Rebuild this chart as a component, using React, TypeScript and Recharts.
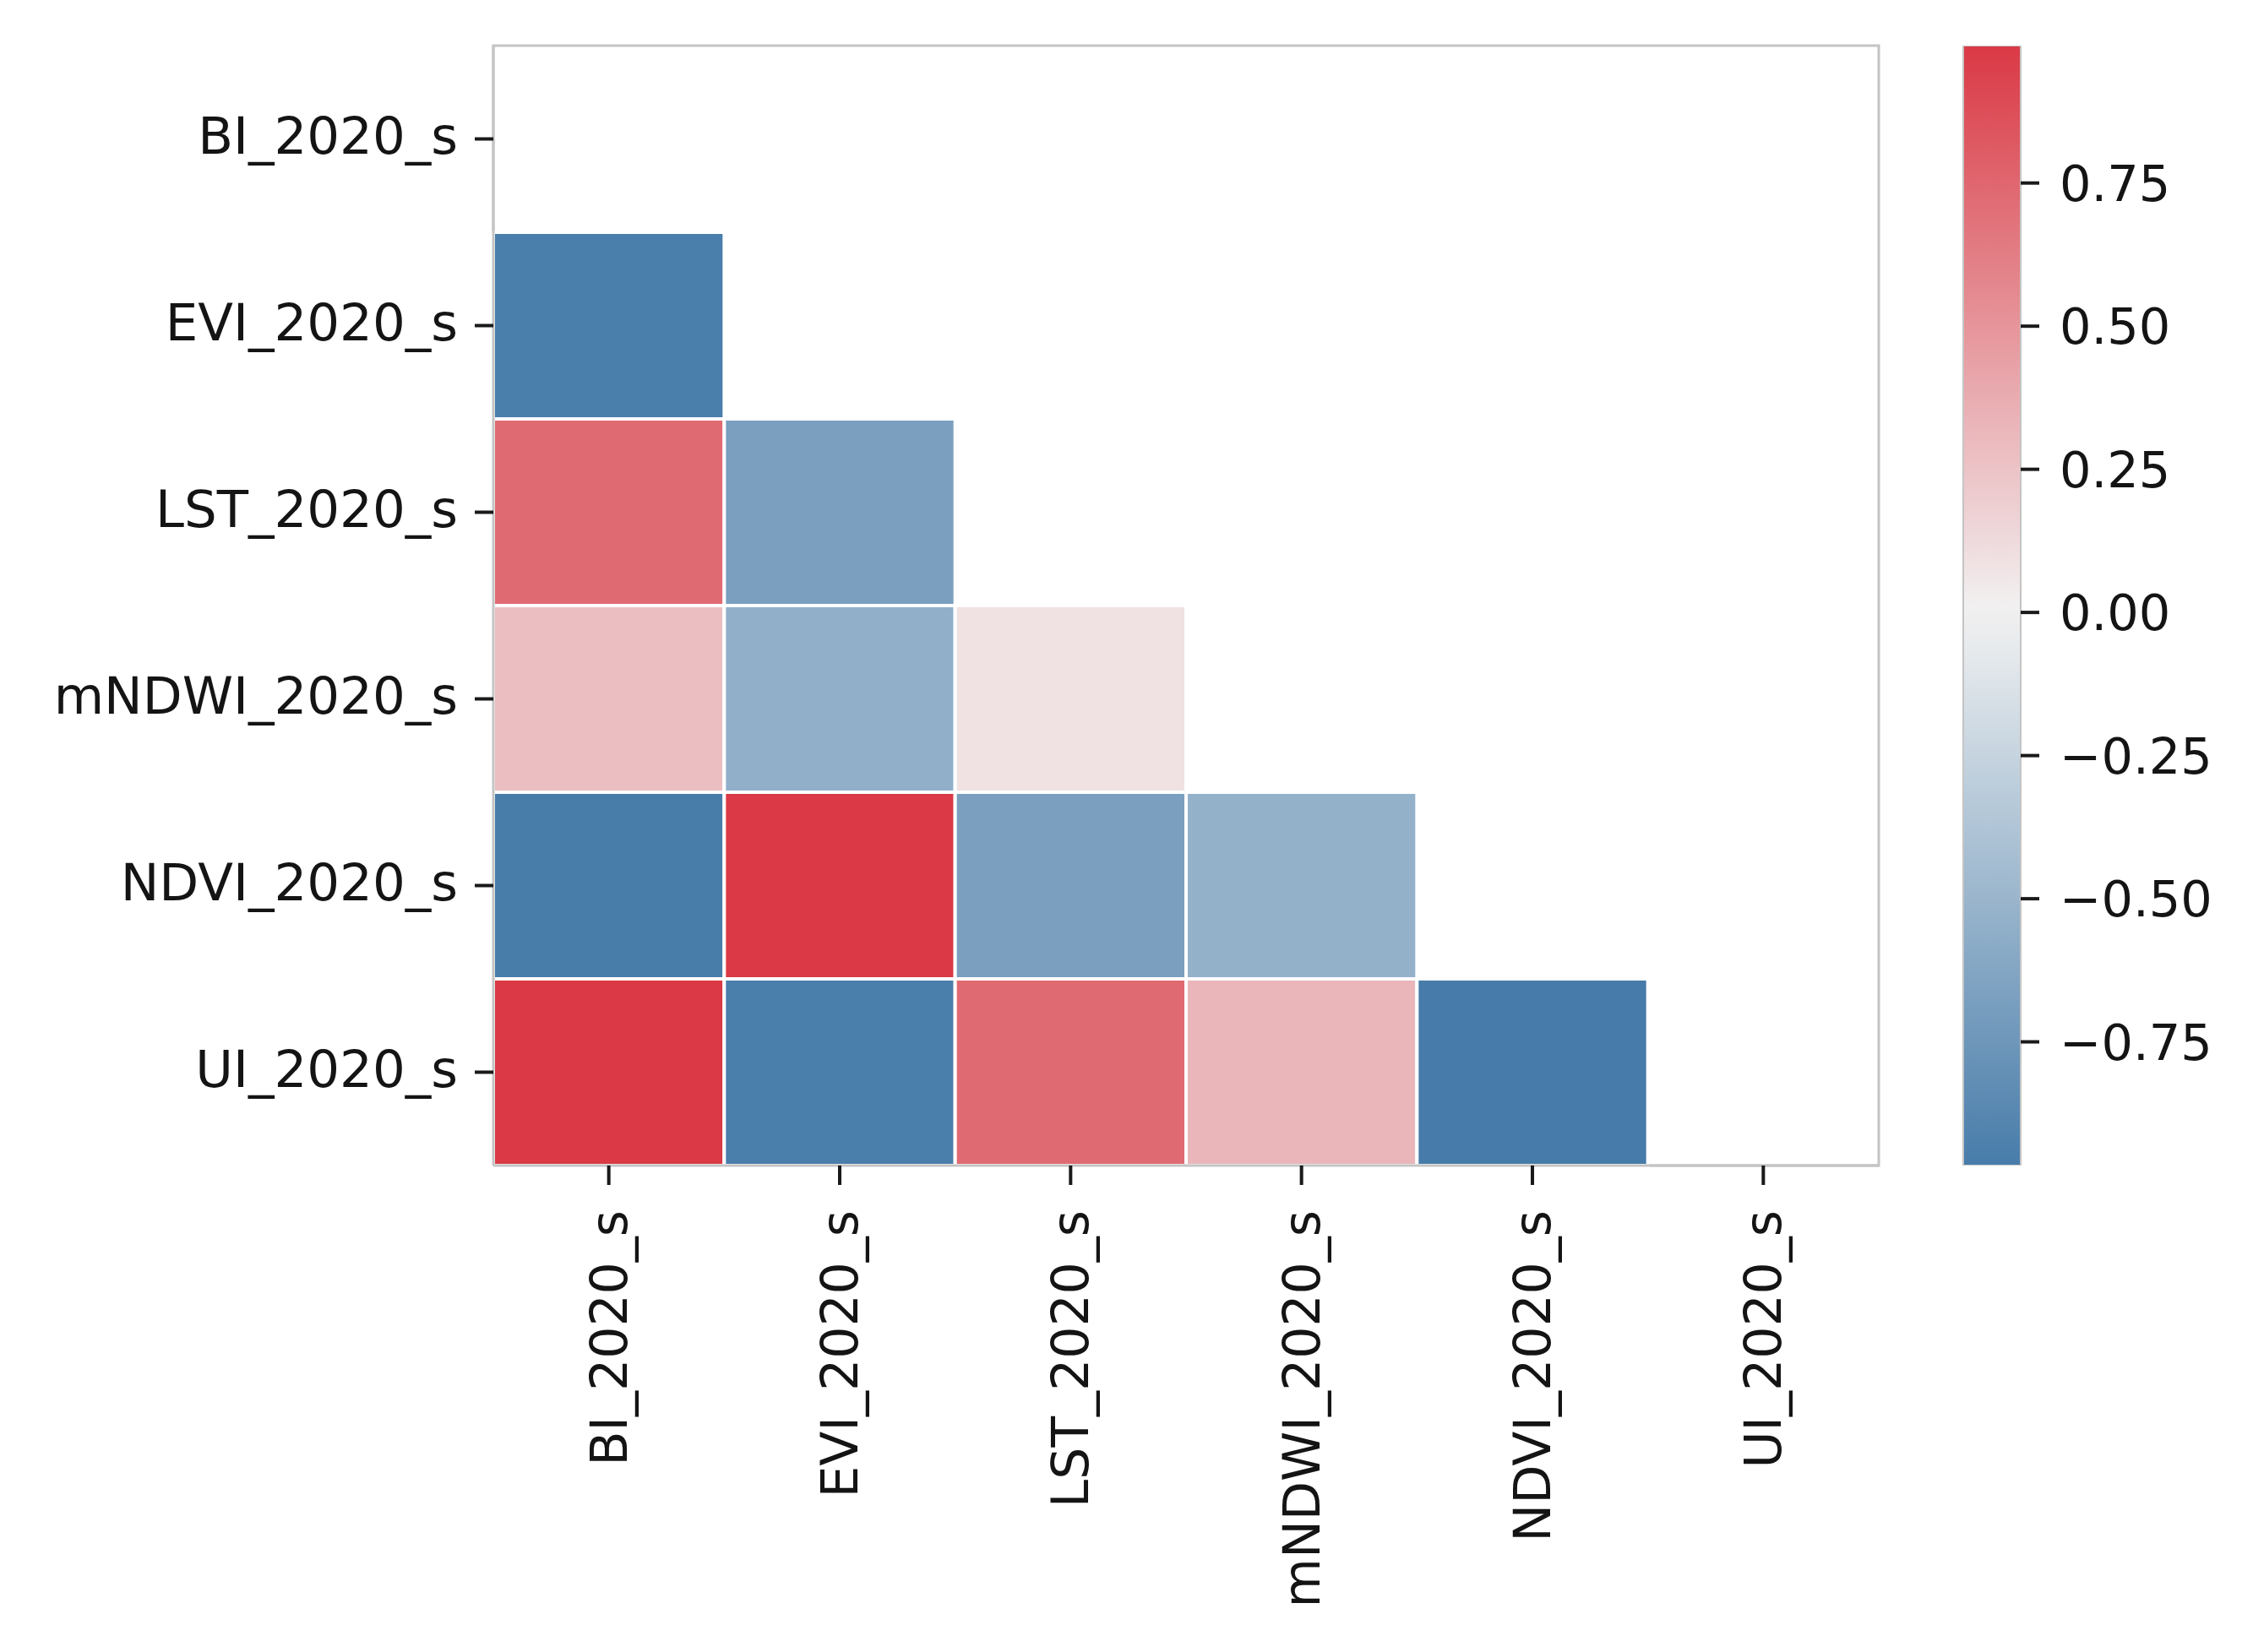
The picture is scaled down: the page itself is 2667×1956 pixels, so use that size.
import React from "react";
import { BarChart, Bar, XAxis, YAxis, Cell, ReferenceArea } from "recharts";

const labels = ["BI_2020_s", "EVI_2020_s", "LST_2020_s", "mNDWI_2020_s", "NDVI_2020_s", "UI_2020_s"];

// lower-triangle correlation values (row by row); null = masked
const rowBI: (number | null)[] = [null, null, null, null, null, null];
const rowEVI: (number | null)[] = [-0.95, null, null, null, null, null];
const rowLST: (number | null)[] = [0.73, -0.68, null, null, null, null];
const rowMNDWI: (number | null)[] = [0.28, -0.55, 0.09, null, null, null];
const rowNDVI: (number | null)[] = [-0.96, 0.99, -0.68, -0.53, null, null];
const rowUI: (number | null)[] = [0.99, -0.95, 0.73, 0.32, -0.966, null];

const colorbarTicks = [-0.75, -0.5, -0.25, 0, 0.25, 0.5, 0.75];
const xTicks = [0.5, 1.5, 2.5, 3.5, 4.5, 5.5];

const matrix = [rowBI, rowEVI, rowLST, rowMNDWI, rowNDVI, rowUI];
const allVals = matrix.flat().filter((v): v is number => v !== null);
const vmin = Math.min(...allVals);
const vmax = Math.max(...allVals);
const vrange = Math.max(vmax, -vmin);

const NEG = [67, 121, 168];
const MID = [242, 242, 242];
const POS = [218, 57, 69];

function cmap(v: number): string {
  const t = Math.max(-1, Math.min(1, v / vrange));
  const end = t < 0 ? NEG : POS;
  const a = Math.abs(t);
  const c = MID.map((m, k) => Math.round(m + (end[k] - m) * a));
  return `rgb(${c[0]},${c[1]},${c[2]})`;
}

const chartData = labels.map((l) => {
  const o: Record<string, any> = { row: l };
  labels.forEach((_, j) => (o["c" + j] = 1));
  return o;
});

const cbData = [{ name: "cb", range: [vmin, vmax] }];
const gradStops = Array.from({ length: 21 }, (_, k) => {
  const off = k / 20;
  const v = vmax - off * (vmax - vmin);
  return { off, color: cmap(v) };
});

const FONT = "DejaVu Sans";
const TXT = "#141414";
const TICK = "#1a1a1a";

const XTick = (props: any) => {
  const { x, y, payload } = props;
  const name = labels[Math.floor(payload.value)];
  return (
    <text
      x={x}
      y={y}
      transform={`rotate(-90 ${x} ${y})`}
      textAnchor="end"
      dominantBaseline="central"
      fontFamily={FONT}
      fontSize={60}
      fill={TXT}
    >
      {name}
    </text>
  );
};

const fmt = (v: number) => (v < 0 ? "\u2212" + Math.abs(v).toFixed(2) : v.toFixed(2));

export default function App() {
  return (
    <div style={{ position: "relative", width: 2651, height: 1940, background: "#fff" }}>
      <div style={{ position: "absolute", left: 0, top: 0 }}>
        <BarChart
          width={2300}
          height={1940}
          data={chartData}
          layout="vertical"
          barCategoryGap={0}
          barGap={0}
          margin={{ top: 46, right: 84, bottom: 0, left: 0 }}
        >
          <XAxis
            type="number"
            domain={[0, 6]}
            ticks={xTicks}
            height={568}
            tickSize={23}
            tickMargin={30}
            axisLine={{ stroke: "#c4c4c4", strokeWidth: 3 }}
            tickLine={{ stroke: TICK, strokeWidth: 4 }}
            tick={<XTick />}
            interval={0}
          />
          <YAxis
            type="category"
            dataKey="row"
            width={576}
            tickSize={22}
            tickMargin={20}
            axisLine={{ stroke: "#c4c4c4", strokeWidth: 3 }}
            tickLine={{ stroke: TICK, strokeWidth: 4 }}
            tick={{ fontSize: 61, fill: TXT, fontFamily: FONT, dy: -4 }}
            interval={0}
          />
          {labels.map((_, j) => (
            <Bar key={j} dataKey={"c" + j} stackId="a" isAnimationActive={false}>
              {matrix.map((row, i) => {
                const v = row[j];
                return v === null ? (
                  <Cell key={i} fill="transparent" stroke="none" />
                ) : (
                  <Cell key={i} fill={cmap(v)} stroke="#ffffff" strokeWidth={4} />
                );
              })}
            </Bar>
          ))}
          <ReferenceArea x1={0} x2={6} fill="none" stroke="#c4c4c4" strokeWidth={3} ifOverflow="extendDomain" />
        </BarChart>
      </div>
      <div style={{ position: "absolute", left: 2300, top: 0 }}>
        <BarChart
          width={351}
          height={1940}
          data={cbData}
          barCategoryGap={0}
          margin={{ top: 46, right: 0, bottom: 568, left: 16 }}
        >
          <defs>
            <linearGradient id="cbGrad" x1="0" y1="0" x2="0" y2="1">
              {gradStops.map((s, k) => (
                <stop key={k} offset={s.off} stopColor={s.color} />
              ))}
            </linearGradient>
          </defs>
          <XAxis dataKey="name" hide />
          <YAxis
            orientation="right"
            type="number"
            domain={[vmin, vmax]}
            allowDataOverflow
            ticks={colorbarTicks}
            width={267}
            tickSize={22}
            tickMargin={24}
            axisLine={false}
            tickLine={{ stroke: TICK, strokeWidth: 4 }}
            tick={{ fontSize: 59, fill: TXT, fontFamily: FONT }}
            tickFormatter={fmt}
            interval={0}
          />
          <Bar dataKey="range" fill="url(#cbGrad)" stroke="#c4c4c4" strokeWidth={2} isAnimationActive={false} />
        </BarChart>
      </div>
    </div>
  );
}
